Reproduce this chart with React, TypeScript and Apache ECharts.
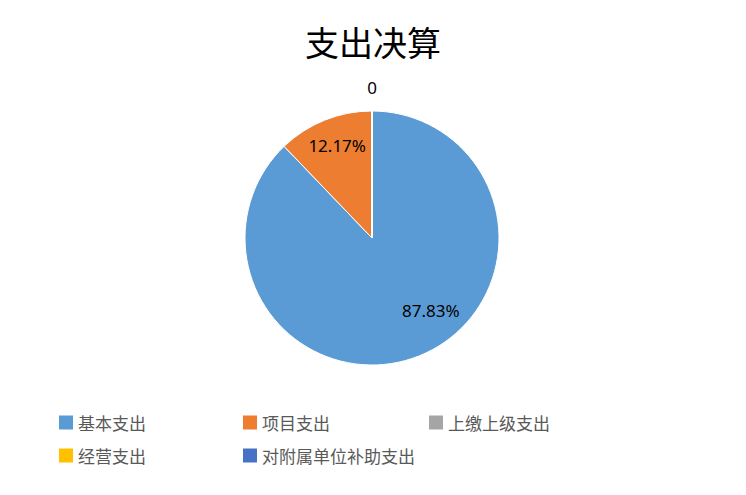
import React, { useEffect, useRef } from "react";
import * as echarts from "echarts";

const categories = ["基本支出", "项目支出", "上缴上级支出", "经营支出", "对附属单位补助支出"];
const values = [87.83, 12.17, 0, 0, 0];
const colors = ["#5B9BD5", "#ED7D31", "#A5A5A5", "#FFC000", "#4472C4"];
const labelTexts = ["87.83%", "12.17%", "0", "", ""];
const labelOffsets: number[][] = [[34, 11], [-10, -31], [0, -84], [0, 0], [0, 0]];
const legendPos: number[][] = [[59, 414], [243, 414], [429, 414], [59, 447], [243, 447]];

export default function App() {
  const ref = useRef<HTMLDivElement>(null);
  useEffect(() => {
    if (!ref.current) return;
    const chart = echarts.init(ref.current, undefined, { renderer: "svg" });
    const legends = categories.map((c, i) => ({
      data: [{ name: c, icon: "rect", itemStyle: { color: colors[i], borderWidth: 0 } }],
      left: legendPos[i][0],
      top: legendPos[i][1],
      orient: "horizontal",
      icon: "rect",
      itemWidth: 14,
      itemHeight: 14,
      padding: 0,
      selectedMode: false,
      itemStyle: { borderWidth: 0 },
      textStyle: {
        fontFamily: "Noto Sans CJK SC",
        fontSize: 17,
        color: "#595959",
        padding: [0, 0, 0, 0],
      },
    }));
    chart.setOption({
      animation: false,
      color: colors,
      title: {
        text: "支出决算",
        left: "center",
        top: 19,
        textStyle: {
          fontFamily: "Noto Sans CJK SC",
          fontSize: 34,
          fontWeight: "normal",
          color: "#000",
        },
      },
      legend: legends,
      series: [
        {
          type: "pie",
          center: [372, 238],
          radius: 127,
          startAngle: 90,
          clockwise: true,
          avoidLabelOverlap: false,
          minShowLabelAngle: 0,
          itemStyle: { borderColor: "#fff", borderWidth: 1 },
          labelLine: { show: false },
          data: categories.map((c, i) => ({
            name: c,
            value: values[i],
            itemStyle: { color: colors[i] },
            label: {
              show: labelTexts[i] !== "",
              position: "inside",
              formatter: labelTexts[i],
              offset: labelOffsets[i],
              fontFamily: "Noto Sans",
              fontSize: 17,
              color: "#000",
            },
          })),
        },
      ],
    });
    return () => chart.dispose();
  }, []);
  return (
    <div
      ref={ref}
      style={{ position: "absolute", left: 0, top: 0, width: 746, height: 495, background: "#fff" }}
    />
  );
}
